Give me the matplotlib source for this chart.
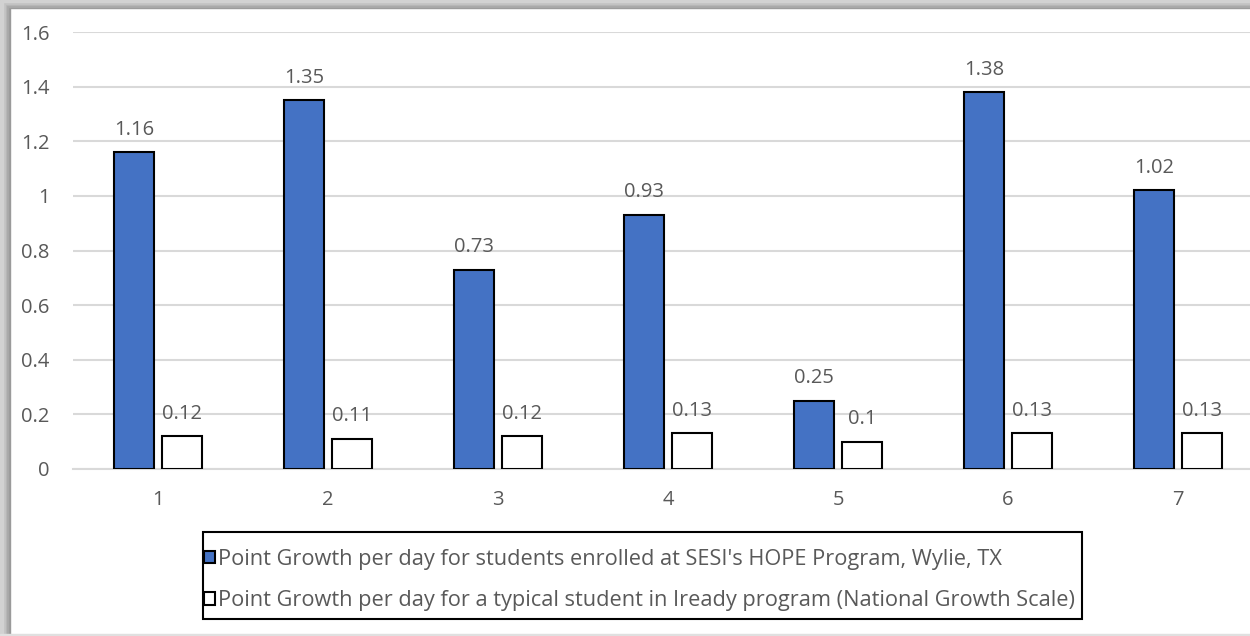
import matplotlib.pyplot as plt
import numpy as np
from matplotlib.patches import Rectangle

# Data
groups = [1, 2, 3, 4, 5, 6, 7]
hope_growth = [1.16, 1.35, 0.73, 0.93, 0.25, 1.38, 1.02]
iready_growth = [0.12, 0.11, 0.12, 0.13, 0.1, 0.13, 0.13]
yticks = [0, 0.2, 0.4, 0.6, 0.8, 1, 1.2, 1.4, 1.6]
hope_label = "Point Growth per day for students enrolled at SESI's HOPE Program, Wylie, TX"
iready_label = "Point Growth per day for a typical student in Iready program (National Growth Scale)"

text_color = "#595959"
grid_color = "#d9d9d9"
blue = "#4472C4"

plt.rcParams["font.family"] = ["Open Sans", "DejaVu Sans"]

W, H = 1250, 636
fig = plt.figure(figsize=(W / 100, H / 100), dpi=100)

# shadow frame (top and left)
for i, g in enumerate(["#9a9a9a", "#a8a8a8", "#b4b4b4", "#c2c2c2", "#d2d2d2"]):
    fig.patches.append(Rectangle((0, 1 - (8 - i * 1.5) / H), 1, (8 - i * 1.5) / H,
                                 transform=fig.transFigure, color=g, zorder=0))
    fig.patches.append(Rectangle((0, 0), (10 - i * 1.8) / W, 1,
                                 transform=fig.transFigure, color=g, zorder=0))
fig.patches.append(Rectangle((0, 0), 1, 2 / H, transform=fig.transFigure,
                             color="#e0e0e0", zorder=0))

left, right, bottom, top = 73, 1250, 469, 32
ax = fig.add_axes([left / W, (H - bottom) / H, (right - left) / W, (bottom - top) / H])

x = np.array(groups)
width = 0.232
off = 0.142
b1 = ax.bar(x - off, hope_growth, width, color=blue, edgecolor="black",
            linewidth=1.5, label=hope_label, zorder=3)
b2 = ax.bar(x + off, iready_growth, width, color="white", edgecolor="black",
            linewidth=1.5, label=iready_label, zorder=3)

for xi, v in zip(x - off, hope_growth):
    ax.annotate(f"{v:g}", (xi, v), xytext=(0, 9), textcoords="offset points",
                ha="center", va="bottom", fontsize=14.5, color=text_color)
for xi, v in zip(x + off, iready_growth):
    ax.annotate(f"{v:g}", (xi, v), xytext=(0, 9), textcoords="offset points",
                ha="center", va="bottom", fontsize=14.5, color=text_color)

ax.set_xlim(0.5, 0.5 + (right - left) / 170)
ax.set_ylim(0, 1.6)
ax.set_yticks(yticks)
ax.set_yticklabels([f"{t:g}" for t in yticks])
ax.set_xticks(x)
ax.set_xticklabels([str(g) for g in groups])
ax.tick_params(axis="both", length=0, labelsize=14.5, labelcolor=text_color)
ax.tick_params(axis="y", pad=17)
ax.tick_params(axis="x", pad=15)
ax.yaxis.grid(True, color=grid_color, linewidth=1.5, zorder=0)
ax.set_axisbelow(True)
for s in ["top", "right", "left"]:
    ax.spines[s].set_visible(False)
ax.spines["bottom"].set_color(grid_color)
ax.spines["bottom"].set_linewidth(1.5)

# legend box drawn separately, entries sit close to its left border
fig.patches.append(Rectangle((203 / W, 1 - 619 / H), (1082 - 203) / W, (619 - 532) / H,
                             transform=fig.transFigure, fill=False,
                             edgecolor="black", linewidth=1.5, zorder=5))
leg = fig.legend(handles=[b1, b2], loc="center left",
                 bbox_to_anchor=(204 / W, 1 - 580 / H), fontsize=15.7,
                 frameon=False, labelcolor=text_color,
                 handlelength=0.5, handleheight=0.5, handletextpad=0.15,
                 labelspacing=0.92, borderpad=0, borderaxespad=0)

fig.savefig("out.png", dpi=100, facecolor="white")
